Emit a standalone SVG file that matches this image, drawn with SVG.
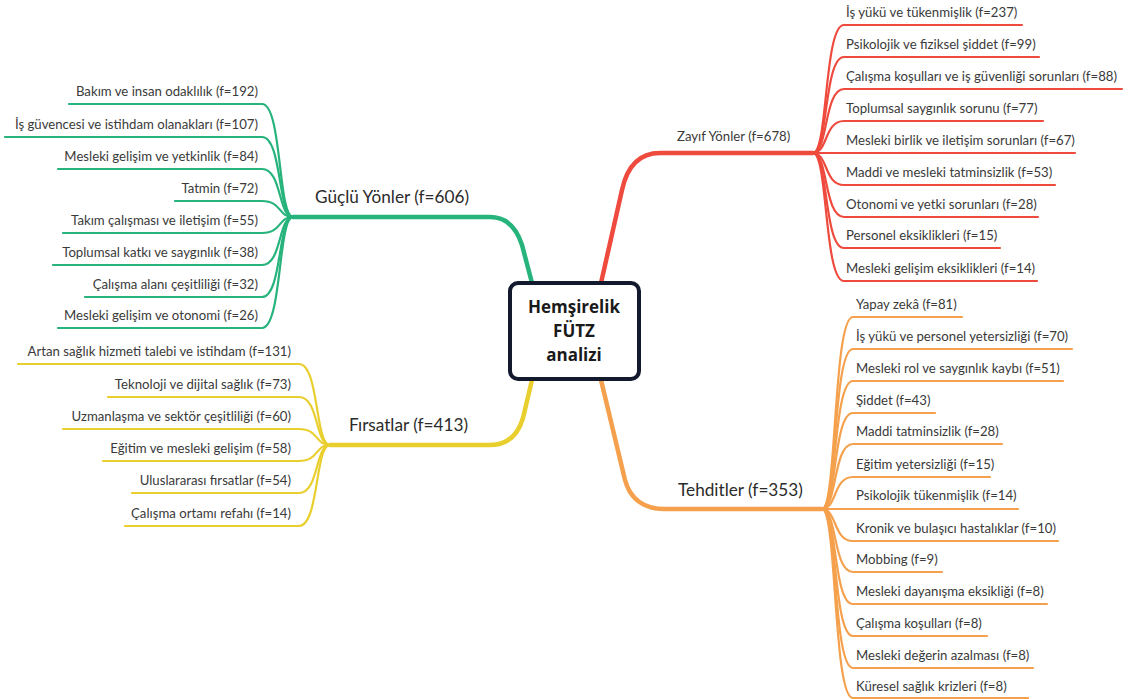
<svg xmlns="http://www.w3.org/2000/svg" width="1134" height="699" viewBox="0 0 1134 699">
<style>
.t{font-family:Lato,"Open Sans","Liberation Sans",sans-serif;font-size:13.2px;fill:#3a3a3a}
.l{text-anchor:end}
.m{font-family:Lato,"Open Sans","Liberation Sans",sans-serif;font-size:17.2px;fill:#2b2b2b}
.c{font-family:"Open Sans",Lato,"Liberation Sans",sans-serif;font-size:17px;font-weight:bold;fill:#1a1a1a;text-anchor:middle}
.g{stroke:#27b37c}.y{stroke:#e9cf2e}.r{stroke:#ee4a3d}.o{stroke:#f5a04c}
.k path{fill:none;stroke-width:2.2;stroke-linecap:round}
.k .b{stroke-width:4.5}
</style>
<rect width="1134" height="699" fill="#ffffff"/>
<g id="connectors" class="k">
<path class="b g" d="M532 283 L522 245 Q513 217 490 217 H293"/>
<path class="b y" d="M532 380 L523 418 Q515 445 490 445 H330"/>
<path class="b r" d="M601 283 L622 190 Q630 153 660 153 H813"/>
<path class="b o" d="M601 380 L625 480 Q633 509 665 509 H822"/>
<path class="g" d="M293 217 C278 217 282 104 262 104 H69"/>
<path class="g" d="M293 217 C278 217 282 137 262 137 H5"/>
<path class="g" d="M293 217 C278 217 282 169 262 169 H58"/>
<path class="g" d="M293 217 C278 217 282 201 262 201 H175"/>
<path class="g" d="M293 217 C278 217 282 233 262 233 H63"/>
<path class="g" d="M293 217 C278 217 282 265 262 265 H53"/>
<path class="g" d="M293 217 C278 217 282 297 262 297 H85"/>
<path class="g" d="M293 217 C278 217 282 328 262 328 H58"/>
<path class="y" d="M330 445 C315 445 319 364 299 364 H18"/>
<path class="y" d="M330 445 C315 445 319 397 299 397 H108"/>
<path class="y" d="M330 445 C315 445 319 429 299 429 H63"/>
<path class="y" d="M330 445 C315 445 319 461 299 461 H103"/>
<path class="y" d="M330 445 C315 445 319 493 299 493 H132"/>
<path class="y" d="M330 445 C315 445 319 526 299 526 H125"/>
<path class="r" d="M813 153 C828 153 824 25 844 25 H1022"/>
<path class="r" d="M813 153 C828 153 824 57 844 57 H1039"/>
<path class="r" d="M813 153 C828 153 824 89 844 89 H1122"/>
<path class="r" d="M813 153 C828 153 824 121 844 121 H1043"/>
<path class="r" d="M813 153 H1075"/>
<path class="r" d="M813 153 C828 153 824 185 844 185 H1055"/>
<path class="r" d="M813 153 C828 153 824 217 844 217 H1038"/>
<path class="r" d="M813 153 C828 153 824 248 844 248 H1000"/>
<path class="r" d="M813 153 C828 153 824 281 844 281 H1037"/>
<path class="o" d="M822 509 C837 509 833 317 853 317 H962"/>
<path class="o" d="M822 509 C837 509 833 349 853 349 H1072"/>
<path class="o" d="M822 509 C837 509 833 381 853 381 H1063"/>
<path class="o" d="M822 509 C837 509 833 413 853 413 H935"/>
<path class="o" d="M822 509 C837 509 833 444 853 444 H1002"/>
<path class="o" d="M822 509 C837 509 833 477 853 477 H990"/>
<path class="o" d="M822 509 H1018"/>
<path class="o" d="M822 509 C837 509 833 541 853 541 H1058"/>
<path class="o" d="M822 509 C837 509 833 572 853 572 H942"/>
<path class="o" d="M822 509 C837 509 833 604 853 604 H1047"/>
<path class="o" d="M822 509 C837 509 833 636 853 636 H987"/>
<path class="o" d="M822 509 C837 509 833 668 853 668 H1033"/>
<path class="o" d="M822 509 C837 509 833 698 853 698 H1028"/>
</g>
<g id="center">
<rect x="510" y="283" width="129" height="96" rx="8" fill="#ffffff" stroke="#141a2e" stroke-width="4"/>
<text class="c" x="574" y="313">Hemşirelik</text>
<text class="c" x="574" y="337">FÜTZ</text>
<text class="c" x="574" y="361">analizi</text>
</g>
<g id="guclu">
<text class="m" x="315" y="203">Güçlü Yönler (f=606)</text>
<text class="t l" x="258" y="96">Bakım ve insan odaklılık (f=192)</text>
<text class="t l" x="258" y="129">İş güvencesi ve istihdam olanakları (f=107)</text>
<text class="t l" x="258" y="161">Mesleki gelişim ve yetkinlik (f=84)</text>
<text class="t l" x="258" y="193">Tatmin (f=72)</text>
<text class="t l" x="258" y="225">Takım çalışması ve iletişim (f=55)</text>
<text class="t l" x="258" y="257">Toplumsal katkı ve saygınlık (f=38)</text>
<text class="t l" x="258" y="289">Çalışma alanı çeşitliliği (f=32)</text>
<text class="t l" x="258" y="320">Mesleki gelişim ve otonomi (f=26)</text>
</g>
<g id="firsatlar">
<text class="m" x="349" y="431">Fırsatlar (f=413)</text>
<text class="t l" x="291" y="356">Artan sağlık hizmeti talebi ve istihdam (f=131)</text>
<text class="t l" x="291" y="389">Teknoloji ve dijital sağlık (f=73)</text>
<text class="t l" x="291" y="421">Uzmanlaşma ve sektör çeşitliliği (f=60)</text>
<text class="t l" x="291" y="453">Eğitim ve mesleki gelişim (f=58)</text>
<text class="t l" x="291" y="485">Uluslararası fırsatlar (f=54)</text>
<text class="t l" x="291" y="518">Çalışma ortamı refahı (f=14)</text>
</g>
<g id="zayif">
<text class="t" x="677" y="141">Zayıf Yönler (f=678)</text>
<text class="t" x="846" y="17">İş yükü ve tükenmişlik (f=237)</text>
<text class="t" x="846" y="49">Psikolojik ve fiziksel şiddet (f=99)</text>
<text class="t" x="846" y="81">Çalışma koşulları ve iş güvenliği sorunları (f=88)</text>
<text class="t" x="846" y="113">Toplumsal saygınlık sorunu (f=77)</text>
<text class="t" x="846" y="145">Mesleki birlik ve iletişim sorunları (f=67)</text>
<text class="t" x="846" y="177">Maddi ve mesleki tatminsizlik (f=53)</text>
<text class="t" x="846" y="209">Otonomi ve yetki sorunları (f=28)</text>
<text class="t" x="846" y="240">Personel eksiklikleri (f=15)</text>
<text class="t" x="846" y="273">Mesleki gelişim eksiklikleri (f=14)</text>
</g>
<g id="tehditler">
<text class="m" x="678" y="496">Tehditler (f=353)</text>
<text class="t" x="856" y="309">Yapay zekâ (f=81)</text>
<text class="t" x="856" y="341">İş yükü ve personel yetersizliği (f=70)</text>
<text class="t" x="856" y="373">Mesleki rol ve saygınlık kaybı (f=51)</text>
<text class="t" x="856" y="405">Şiddet (f=43)</text>
<text class="t" x="856" y="436">Maddi tatminsizlik (f=28)</text>
<text class="t" x="856" y="469">Eğitim yetersizliği (f=15)</text>
<text class="t" x="856" y="500">Psikolojik tükenmişlik (f=14)</text>
<text class="t" x="856" y="533">Kronik ve bulaşıcı hastalıklar (f=10)</text>
<text class="t" x="856" y="564">Mobbing (f=9)</text>
<text class="t" x="856" y="596">Mesleki dayanışma eksikliği (f=8)</text>
<text class="t" x="856" y="628">Çalışma koşulları (f=8)</text>
<text class="t" x="856" y="660">Mesleki değerin azalması (f=8)</text>
<text class="t" x="856" y="691">Küresel sağlık krizleri (f=8)</text>
</g>
</svg>
